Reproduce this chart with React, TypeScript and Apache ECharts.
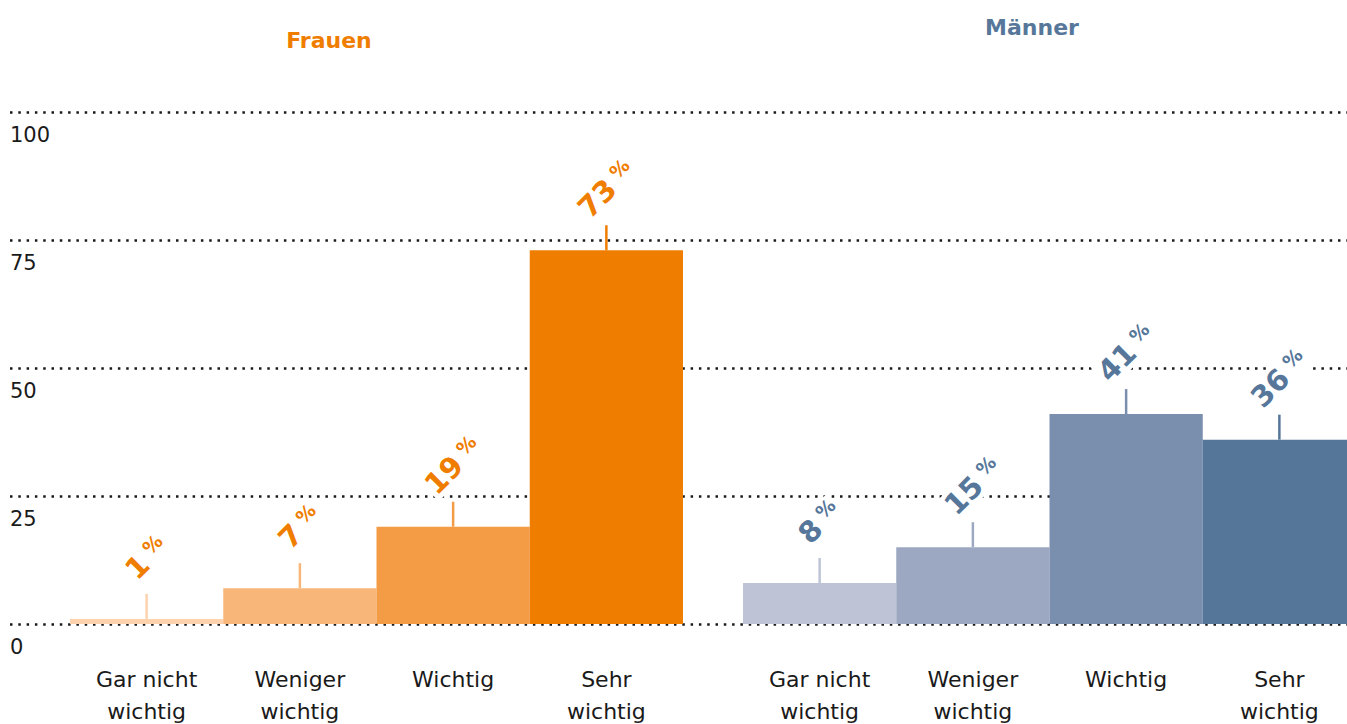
import React, { useEffect, useRef } from "react";
import * as echarts from "echarts";

const categories = ["Gar nicht\nwichtig", "Weniger\nwichtig", "Wichtig", "Sehr\nwichtig"];
const frauenValues = [1, 7, 19, 73];
const maennerValues = [8, 15, 41, 36];
const frauenColors = ["#fdd2ad", "#f8b679", "#f39b45", "#ef7d00"];
const maennerColors = ["#bec4d6", "#9ca8c1", "#7a8eae", "#557699"];
const groupTitles = ["Frauen", "Männer"];
const titleColors = ["#ef7d00", "#56779a"];

const FONT = "DejaVu Sans";

function labelSeries(axisIdx: number, values: number[], colors: string[], textColor: string) {
  return {
    type: "custom",
    xAxisIndex: axisIdx,
    yAxisIndex: axisIdx,
    clip: false,
    z: 10,
    data: values.map((v, i) => [i, v]),
    encode: { x: 0, y: 1 },
    renderItem: (params: any, api: any) => {
      const i = api.value(0);
      const v = api.value(1);
      const p = api.coord([i, v]);
      return {
        type: "group",
        children: [
          {
            type: "line",
            shape: { x1: p[0], y1: p[1], x2: p[0], y2: p[1] - 25 },
            style: { stroke: colors[i], lineWidth: 2.5 },
          },
          {
            type: "text",
            x: p[0],
            y: p[1] - 61,
            rotation: Math.PI / 4,
            style: {
              text: `{n|${v}}{p|%}`,
              align: "center",
              verticalAlign: "middle",
              backgroundColor: "#fff",
              padding: [0, 2],
              rich: {
                n: { fontSize: 29, fontWeight: "bold", fontFamily: FONT, fill: textColor, color: textColor, lineHeight: 30 },
                p: { fontSize: 19, fontWeight: "bold", fontFamily: FONT, fill: textColor, color: textColor, verticalAlign: "top", lineHeight: 20, padding: [0, 0, 0, 7] },
              },
            },
          },
        ],
      };
    },
  };
}

export default function App() {
  const ref = useRef<HTMLDivElement>(null);
  useEffect(() => {
    if (!ref.current) return;
    const chart = echarts.init(ref.current, undefined, { renderer: "svg" });
    const catAxis = (gridIndex: number) => ({
      type: "category",
      gridIndex,
      data: categories,
      axisLine: { show: false },
      axisTick: { show: false },
      axisLabel: {
        interval: 0,
        margin: 39,
        fontSize: 22,
        lineHeight: 32,
        color: "#1a1a1a",
        fontFamily: FONT,
      },
    });
    const hiddenY = (gridIndex: number) => ({
      type: "value",
      gridIndex,
      min: 0,
      max: 100,
      show: false,
      splitLine: { show: false },
    });
    chart.setOption({
      animation: false,
      grid: [
        { left: 10, top: 112, width: 1337, height: 512, containLabel: false, outerBoundsMode: "none" },
        { left: 70, top: 112, width: 613, height: 512, containLabel: false, outerBoundsMode: "none" },
        { left: 743, top: 112, width: 613, height: 512, containLabel: false, outerBoundsMode: "none" },
      ],
      xAxis: [
        { type: "value", gridIndex: 0, show: false, min: 0, max: 1 },
        catAxis(1),
        catAxis(2),
      ],
      yAxis: [
        {
          type: "value",
          gridIndex: 0,
          min: 0,
          max: 100,
          interval: 25,
          axisLine: { show: false },
          axisTick: { show: false },
          axisLabel: {
            inside: true,
            margin: 0,
            verticalAlign: "top",
            padding: [11, 0, 0, 0],
            fontSize: 21,
            lineHeight: 24,
            color: "#1a1a1a",
            fontFamily: FONT,
          },
          splitLine: {
            show: true,
            lineStyle: { color: "#1a1a1a", width: 2.5, type: [2.5, 5.8] },
          },
        },
        hiddenY(1),
        hiddenY(2),
      ],
      graphic: [
        {
          type: "text",
          x: 329,
          y: 40,
          style: { text: groupTitles[0], fill: titleColors[0], fontSize: 22, fontWeight: "bold", fontFamily: FONT, align: "center", verticalAlign: "middle" },
        },
        {
          type: "text",
          x: 1032,
          y: 27,
          style: { text: groupTitles[1], fill: titleColors[1], fontSize: 22, fontWeight: "bold", fontFamily: FONT, align: "center", verticalAlign: "middle" },
        },
      ],
      series: [
        {
          type: "bar",
          xAxisIndex: 1,
          yAxisIndex: 1,
          barCategoryGap: 0,
          barWidth: "100%",
          z: 2,
          data: frauenValues.map((v, i) => ({ value: v, itemStyle: { color: frauenColors[i] } })),
        },
        {
          type: "bar",
          xAxisIndex: 2,
          yAxisIndex: 2,
          barCategoryGap: 0,
          barWidth: "100%",
          z: 2,
          data: maennerValues.map((v, i) => ({ value: v, itemStyle: { color: maennerColors[i] } })),
        },
        labelSeries(1, frauenValues, frauenColors, titleColors[0]),
        labelSeries(2, maennerValues, maennerColors, titleColors[1]),
      ],
    });
    return () => chart.dispose();
  }, []);
  return (
    <div style={{ position: "fixed", left: 0, top: 0, width: 1347, height: 724, overflow: "hidden", background: "#fff" }}>
      <div ref={ref} style={{ width: 1356, height: 724 }} />
    </div>
  );
}
